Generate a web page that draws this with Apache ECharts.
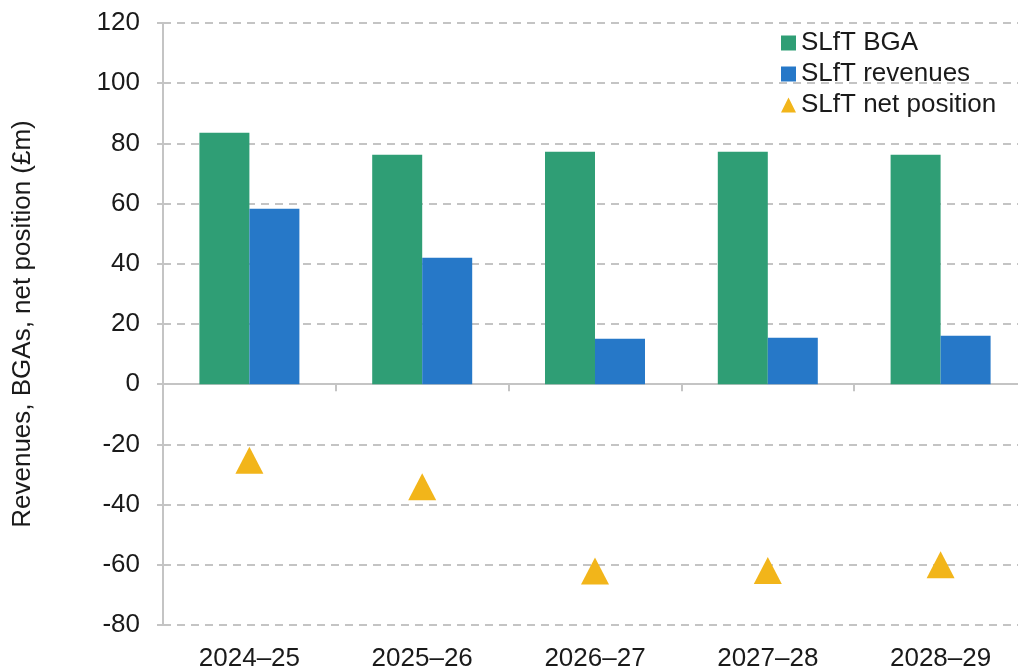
<!DOCTYPE html>
<html>
<head>
<meta charset="utf-8">
<script src="https://cdn.jsdelivr.net/npm/echarts@6/dist/echarts.min.js"></script>
<style>
  body { margin: 0; background: #fff; }
  #main { width: 1018px; height: 671px; }
</style>
</head>
<body>
<div id="main"></div>
<script>
// data
var years = ['2024–25', '2025–26', '2026–27', '2027–28', '2028–29'];
var bga = [83.5, 76.2, 77.2, 77.2, 76.2];
var revenues = [58.3, 42.0, 15.1, 15.4, 16.1];
var netPosition = [-25.3, -34.1, -62.1, -61.9, -60.0];
var yTicks = { min: -80, max: 120, step: 20 };

var gridColor = '#c4c4c4';
var textColor = '#1a1a1a';
var font = 'Liberation Sans, Arial, sans-serif';

var myChart = echarts.init(document.getElementById('main'));

var option = {
  animation: false,
  textStyle: { fontFamily: font },
  // plot runs a little past the right edge in the original
  grid: { left: 163, top: 23, width: 864, bottom: 46, outerBoundsMode: 'none' },
  legend: {
    orient: 'vertical',
    left: 776,
    top: 25,
    itemWidth: 15,
    itemHeight: 15,
    itemGap: 5,
    textStyle: { fontSize: 26, color: textColor, fontFamily: font },
    data: [
      { name: 'SLfT BGA', icon: 'rect' },
      { name: 'SLfT revenues', icon: 'rect' },
      { name: 'SLfT net position', icon: 'triangle' }
    ]
  },
  xAxis: [
    {
      // axis line sitting on zero, with ticks between categories
      type: 'category',
      data: years,
      position: 'bottom',
      axisLine: { onZero: true, lineStyle: { color: gridColor, width: 2 } },
      axisTick: { show: true, length: 7, lineStyle: { color: gridColor, width: 2 } },
      axisLabel: { show: false },
      splitLine: { show: false }
    },
    {
      // labels along the bottom
      type: 'category',
      data: years,
      position: 'bottom',
      axisLine: { show: false, onZero: false },
      axisTick: { show: false },
      axisLabel: { fontSize: 26, color: textColor, margin: 21 },
      splitLine: { show: false }
    }
  ],
  yAxis: {
    type: 'value',
    min: yTicks.min,
    max: yTicks.max,
    interval: yTicks.step,
    name: 'Revenues, BGAs, net position (£m)',
    nameLocation: 'middle',
    nameRotate: 90,
    nameGap: 127,
    nameTextStyle: { fontSize: 26, color: textColor },
    axisLine: { show: true, lineStyle: { color: gridColor, width: 2 } },
    axisTick: { show: true, inside: false, length: 6, lineStyle: { color: gridColor, width: 2 } },
    axisLabel: { fontSize: 26, color: textColor, margin: 23 },
    splitLine: { show: true, lineStyle: { color: gridColor, width: 2, type: [8, 6] } }
  },
  series: [
    {
      name: 'SLfT BGA',
      type: 'bar',
      barWidth: 50,
      barGap: '0%',
      itemStyle: { color: '#2f9e75' },
      data: bga
    },
    {
      name: 'SLfT revenues',
      type: 'bar',
      barWidth: 50,
      barGap: '0%',
      itemStyle: { color: '#2678c8' },
      data: revenues
    },
    {
      name: 'SLfT net position',
      type: 'scatter',
      symbol: 'triangle',
      symbolSize: [28, 27],
      itemStyle: { color: '#f2b51a', opacity: 1 },
      data: netPosition,
      z: 5
    }
  ]
};

myChart.setOption(option);
</script>
</body>
</html>
